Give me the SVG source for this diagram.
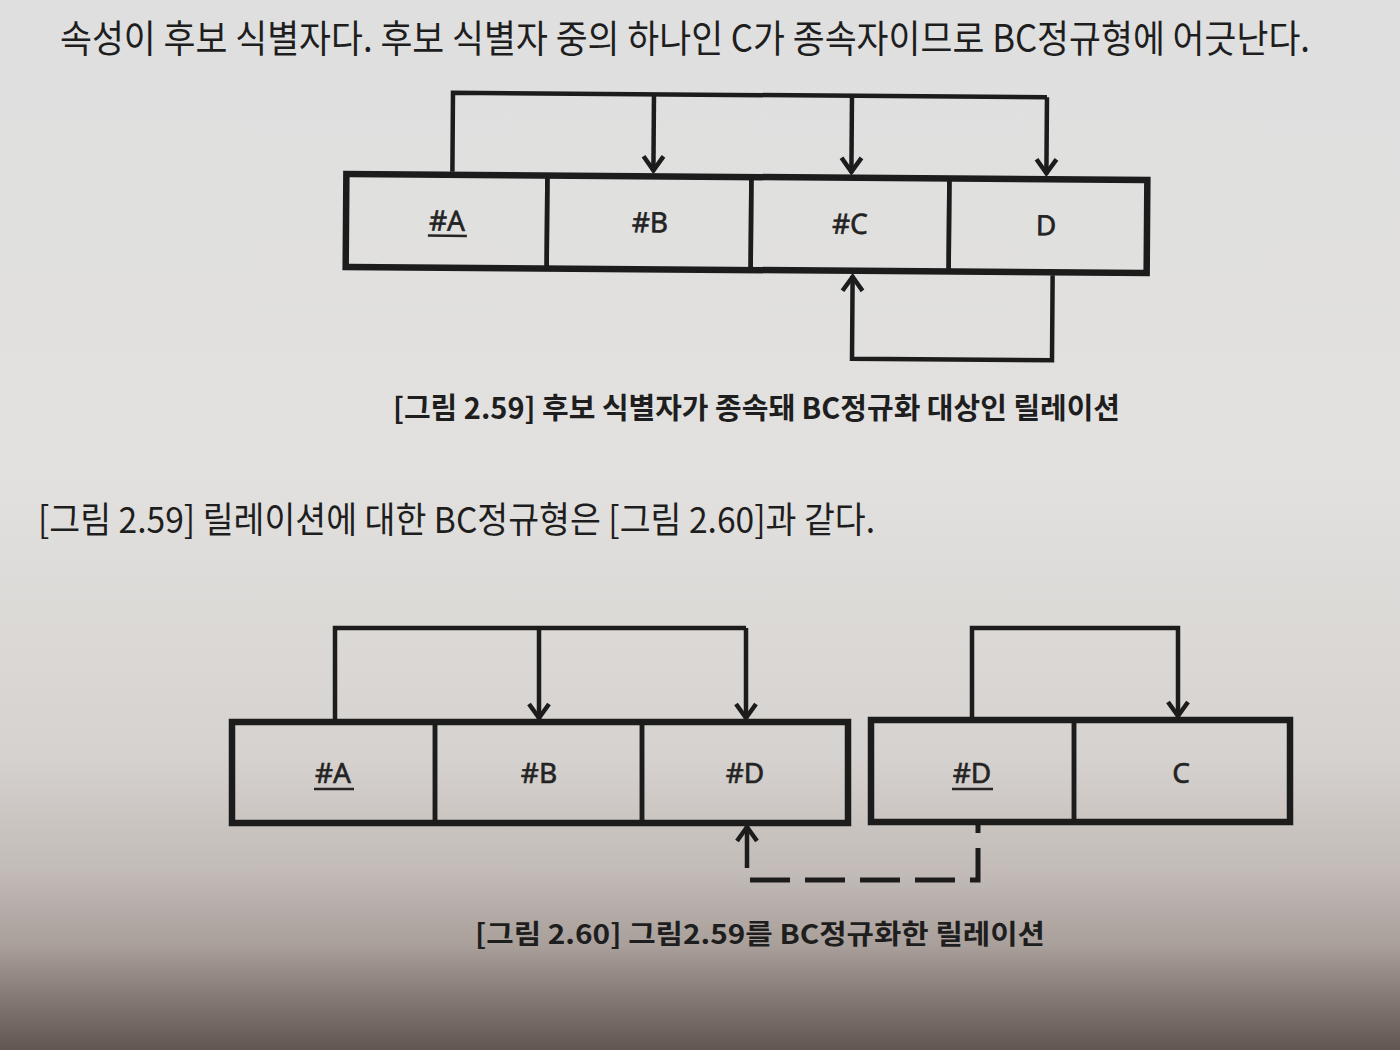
<svg xmlns="http://www.w3.org/2000/svg" width="1400" height="1050" viewBox="0 0 1400 1050">
  <defs>
    <linearGradient id="bg" x1="0" y1="0" x2="0" y2="1">
      <stop offset="0" stop-color="#dfdfdf"/>
      <stop offset="0.45" stop-color="#e2e1df"/>
      <stop offset="0.72" stop-color="#d6d2cf"/>
      <stop offset="0.83" stop-color="#c2bbb7"/>
      <stop offset="0.9" stop-color="#a99f9b"/>
      <stop offset="0.95" stop-color="#857975"/>
      <stop offset="1" stop-color="#625652"/>
    </linearGradient>
    <marker id="arr" viewBox="-20 -14 24 28" refX="0" refY="0" markerWidth="24" markerHeight="28" markerUnits="userSpaceOnUse" orient="auto">
      <path d="M-15,-10 L-1,0 L-15,10" fill="none" stroke="#1c1c1c" stroke-width="4.5" stroke-linejoin="miter"/>
    </marker>
    <style>
      .body { font-family: "Noto Sans CJK KR", "Noto Sans", sans-serif; fill: #1e1e1e; }
      .cap { font-family: "Noto Sans CJK KR", "Noto Sans", sans-serif; font-weight: bold; fill: #1e1e1e; }
      .lbl { font-family: "Noto Sans", "DejaVu Sans", sans-serif; font-size: 28px; fill: #232323; stroke: #232323; stroke-width: 0.6; text-anchor: middle; }
      .cell { fill: none; stroke: #1c1c1c; stroke-width: 4.5; }
      .frame { fill: none; stroke: #1c1c1c; stroke-width: 6.5; }
      .ul { stroke: #232323; stroke-width: 2.5; }
      .conn { fill: none; stroke: #1c1c1c; stroke-width: 4.5; stroke-linejoin: miter; }
      .dash { fill: none; stroke: #1c1c1c; stroke-width: 5; stroke-dasharray: 40 15; }
    </style>
  </defs>

  <rect x="0" y="0" width="1400" height="1050" fill="url(#bg)"/>

  <text class="body" x="0" y="0" font-size="34" textLength="1250" lengthAdjust="spacingAndGlyphs" transform="translate(60 52) scale(1 1.12)">속성이 후보 식별자다. 후보 식별자 중의 하나인 C가 종속자이므로 BC정규형에 어긋난다.</text>

  <g id="figure-2-59" transform="rotate(0.43 746 225)">
    <g id="connectors-1">
      <path class="conn" d="M452,174 V95 H1046"/>
      <path class="conn" d="M653,95 V172" marker-end="url(#arr)"/>
      <path class="conn" d="M851,95 V172" marker-end="url(#arr)"/>
      <path class="conn" d="M1046,95 V172" marker-end="url(#arr)"/>
      <path class="conn" d="M1053,273 V358 H853 V275" marker-end="url(#arr)"/>
    </g>
    <g id="rel1">
      <g id="r1-A">
        <rect class="cell" x="346" y="177" width="201" height="93"/>
        <text class="lbl" x="447" y="233">#A</text>
        <line class="ul" x1="428" y1="238" x2="467" y2="238"/>
      </g>
      <g id="r1-B">
        <rect class="cell" x="547" y="177" width="204" height="93"/>
        <text class="lbl" x="650" y="233">#B</text>
      </g>
      <g id="r1-C">
        <rect class="cell" x="751" y="177" width="198" height="93"/>
        <text class="lbl" x="850" y="233">#C</text>
      </g>
      <g id="r1-D">
        <rect class="cell" x="949" y="177" width="198" height="93"/>
        <text class="lbl" x="1046" y="233">D</text>
      </g>
      <rect class="frame" x="346" y="177" width="801" height="93"/>
    </g>
  </g>

  <text class="cap" x="393" y="419" font-size="29" textLength="727" lengthAdjust="spacingAndGlyphs">[그림 2.59] 후보 식별자가 종속돼 BC정규화 대상인 릴레이션</text>

  <text class="body" x="38" y="533" font-size="36" textLength="837" lengthAdjust="spacingAndGlyphs">[그림 2.59] 릴레이션에 대한 BC정규형은 [그림 2.60]과 같다.</text>

  <g id="figure-2-60">
    <g id="connectors-2">
      <path class="conn" d="M335,720 V628 H746"/>
      <path class="conn" d="M539,628 V719" marker-end="url(#arr)"/>
      <path class="conn" d="M746,628 V719" marker-end="url(#arr)"/>
      <path class="conn" d="M972,719 V628 H1178 V717" marker-end="url(#arr)"/>
      <path class="dash" d="M750,880 H978 V823"/>
      <path class="conn" d="M747,868 V826" marker-end="url(#arr)"/>
    </g>
    <g id="rel2">
      <g id="r2-A">
        <rect class="cell" x="232" y="722" width="203" height="101"/>
        <text class="lbl" x="333" y="783">#A</text>
        <line class="ul" x1="314" y1="789" x2="354" y2="789"/>
      </g>
      <g id="r2-B">
        <rect class="cell" x="435" y="722" width="207" height="101"/>
        <text class="lbl" x="539" y="783">#B</text>
      </g>
      <g id="r2-D">
        <rect class="cell" x="642" y="722" width="206" height="101"/>
        <text class="lbl" x="745" y="783">#D</text>
      </g>
      <rect class="frame" x="232" y="722" width="616" height="101"/>
    </g>
    <g id="rel3">
      <g id="r3-D">
        <rect class="cell" x="871" y="720" width="203" height="102"/>
        <text class="lbl" x="972" y="783">#D</text>
        <line class="ul" x1="952" y1="789" x2="993" y2="789"/>
      </g>
      <g id="r3-C">
        <rect class="cell" x="1074" y="720" width="216" height="102"/>
        <text class="lbl" x="1181" y="783">C</text>
      </g>
      <rect class="frame" x="871" y="720" width="419" height="102"/>
    </g>
  </g>

  <text class="cap" x="475" y="944" font-size="27" textLength="570" lengthAdjust="spacingAndGlyphs">[그림 2.60] 그림2.59를 BC정규화한 릴레이션</text>
</svg>
